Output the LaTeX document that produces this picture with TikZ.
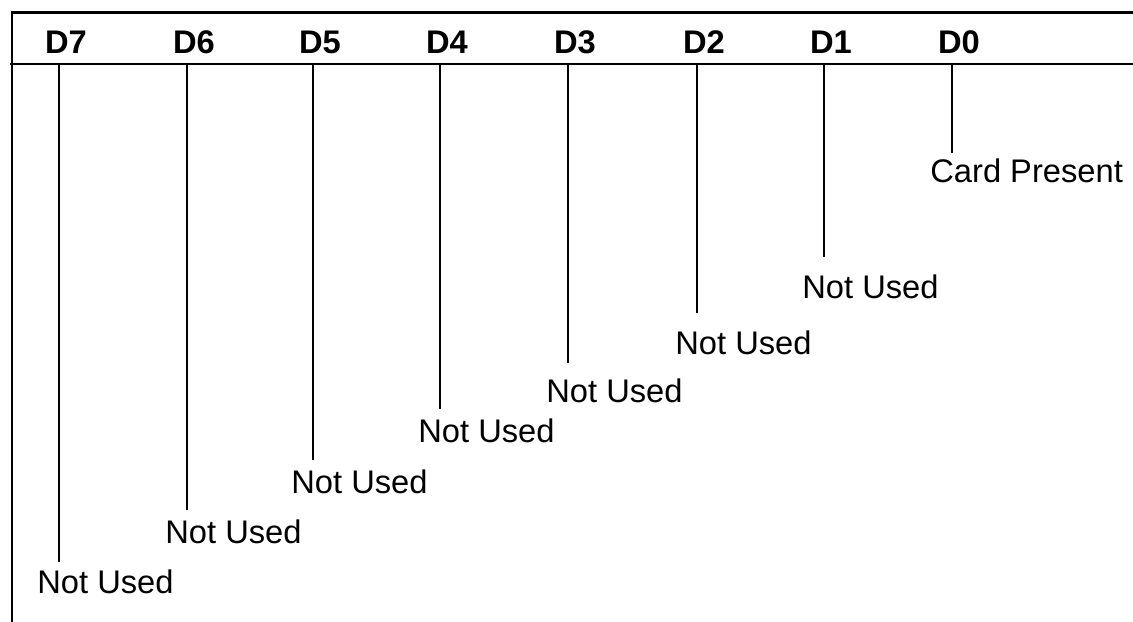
\documentclass[tikz,border=0pt]{standalone}
\usepackage{fontspec}
\setmainfont{Liberation Sans}

\begin{document}
\begin{tikzpicture}[
    x=0.02cm, y=-0.02cm,
    rule/.style={line width=1.3pt},
    bitline/.style={line width=1.1pt},
    bitname/.style={font=\fontsize{18.6}{22}\selectfont\bfseries, anchor=base, inner sep=0pt},
    bitdesc/.style={font=\fontsize{18.6}{22}\selectfont, anchor=base west, inner sep=0pt},
  ]
  \useasboundingbox (0,0) rectangle (1133,622);
  % frame and header rule
  \draw[rule] (1133,12.5) -- (12,12.5) -- (12,622);
  \draw[rule] (10,64) -- (1133,64);
  % one column per bit: bit/x/line end/baseline/text
  \foreach \bit/\x/\y/\b/\txt in {
      7/59/562/593/Not Used,
      6/187/510/543/Not Used,
      5/313/460/493/Not Used,
      4/440/409/442/Not Used,
      3/568/363/402/Not Used,
      2/697/313/354/Not Used,
      1/824/257/298/Not Used,
      0/952/153/182/Card Present} {
    \coordinate (c\bit) at (\x,64);
    \coordinate (e\bit) at (\x,\y);
    \node[bitname] (d\bit) at (\x+7,53) {D\bit};
    \node[bitdesc] (n\bit) at (\x-22,\b) {\txt};
    \draw[bitline] (c\bit) -- (e\bit);
  }
\end{tikzpicture}
\end{document}
